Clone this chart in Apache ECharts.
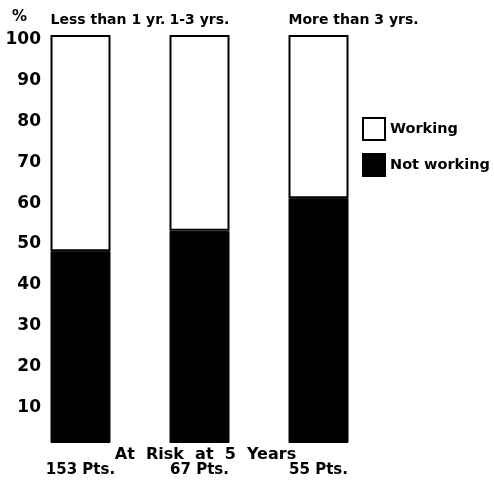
<!DOCTYPE html>
<html>
<head>
<meta charset="utf-8">
<script src="https://cdn.jsdelivr.net/npm/echarts@6/dist/echarts.min.js"></script>
<style>
  html, body { margin: 0; padding: 0; background: #fff; }
  #chart { width: 494px; height: 483px; }
</style>
</head>
<body>
<div id="chart"></div>
<script>
// groups (top labels) and patients at risk (bottom labels)
const groups = ['Less than 1 yr.', '1-3 yrs.', 'More than 3 yrs.']
const patients = ['153 Pts.', '67 Pts.', '55 Pts.']
// percentages
const notWorking = [47, 52, 60]
const working = notWorking.map(v => 100 - v)

const font = 'DejaVu Sans'
let myChart = echarts.init(document.getElementById('chart'))
let options = {
  animation: false,
  grid: { left: 21, right: 116, top: 35, bottom: 40, outerBoundsMode: 'none', containLabel: false },
  legend: {
    orient: 'vertical',
    left: 362,
    top: 117,
    padding: 0,
    itemWidth: 22,
    itemHeight: 22,
    itemGap: 12,
    icon: 'rect',
    data: ['Working', 'Not working'],
    textStyle: { fontFamily: font, fontSize: 14.5, fontWeight: 'bold', color: '#000' }
  },
  xAxis: {
    type: 'category',
    data: patients,
    name: 'At  Risk  at  5  Years',
    nameLocation: 'middle',
    nameGap: 4,
    nameMoveOverlap: false,
    nameTextStyle: { fontFamily: font, fontSize: 16, fontWeight: 'bold', color: '#000', verticalAlign: 'top', padding: [0, 0, 0, 12] },
    axisLine: { show: false },
    axisTick: { show: false },
    axisLabel: { margin: 20, fontFamily: font, fontSize: 15, fontWeight: 'bold', color: '#000' }
  },
  yAxis: {
    type: 'value',
    min: 0,
    max: 100,
    interval: 10,
    offset: -20,
    name: '%',
    nameGap: 10,
    nameTextStyle: { fontFamily: font, fontSize: 15, fontWeight: 'bold', color: '#000', align: 'right', padding: [0, 14, 0, 0] },
    axisLine: { show: false },
    axisTick: { show: false },
    splitLine: { show: false },
    axisLabel: {
      margin: 0,
      fontFamily: font, fontSize: 17, fontWeight: 'bold', color: '#000',
      verticalAlign: 'top',
      lineHeight: 10,
      formatter: v => (v === 0 ? '' : String(v))
    }
  },
  series: [
    {
      name: 'Not working',
      type: 'bar',
      stack: 'total',
      barWidth: 60,
      data: notWorking,
      itemStyle: { color: '#000', borderColor: '#000', borderWidth: 1 }
    },
    {
      name: 'Working',
      type: 'bar',
      stack: 'total',
      barWidth: 60,
      data: working,
      itemStyle: { color: '#fff', borderColor: '#000', borderWidth: 2 },
      label: {
        show: true,
        position: [0, -8],
        align: 'left',
        verticalAlign: 'bottom',
        fontFamily: font, fontSize: 14, fontWeight: 'bold', color: '#000',
        formatter: p => groups[p.dataIndex]
      }
    }
  ]
}
myChart.setOption(options)
</script>
</body>
</html>
